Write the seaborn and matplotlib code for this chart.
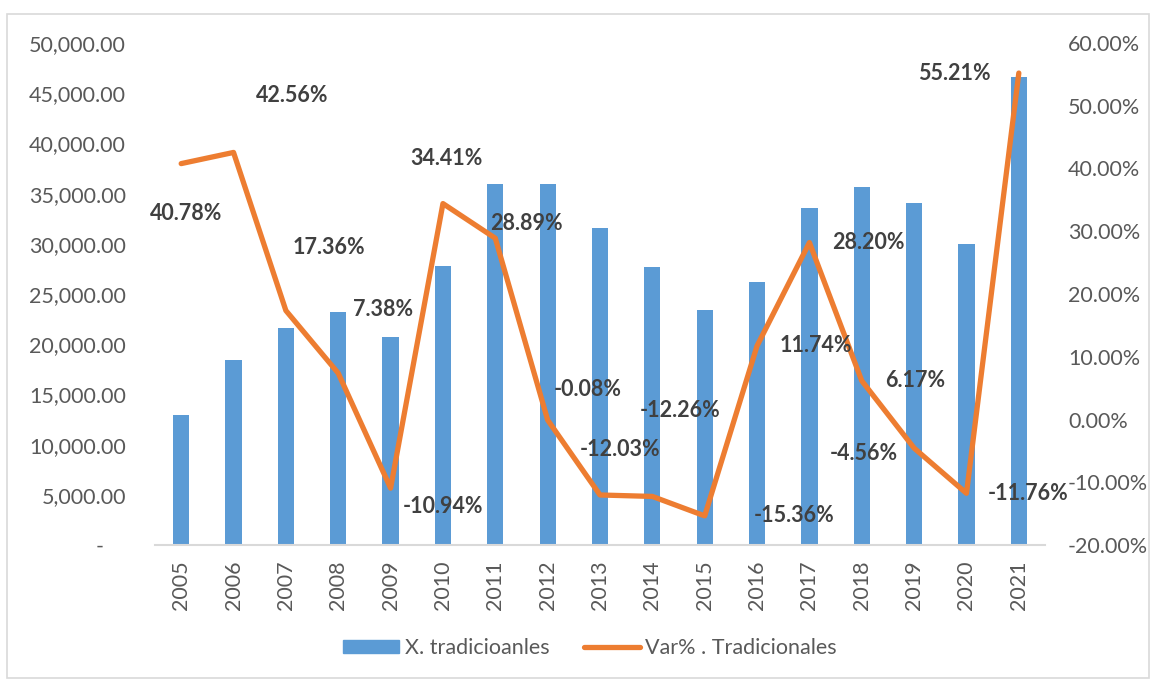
import matplotlib
matplotlib.use("Agg")
import matplotlib.pyplot as plt
import matplotlib.patches as mpatches
from matplotlib.lines import Line2D
from matplotlib.ticker import FuncFormatter, MultipleLocator
import seaborn as sns
import pandas as pd

years = ["2005", "2006", "2007", "2008", "2009", "2010", "2011", "2012", "2013",
         "2014", "2015", "2016", "2017", "2018", "2019", "2020", "2021"]
x_trad = [12950, 18430, 21620, 23210, 20720, 27790, 35950, 35920, 31570,
          27690, 23410, 26200, 33570, 35660, 34060, 29980, 46610]
var_pct = [40.78, 42.56, 17.36, 7.38, -10.94, 34.41, 28.89, -0.08, -12.03,
           -12.26, -15.36, 11.74, 28.20, 6.17, -4.56, -11.76, 55.21]
bar_name = "X. tradicioanles"
line_name = "Var% . Tradicionales"

# label offsets (pixels) relative to each line point
label_offsets = [(5, -50), (59, 57), (43, 63), (45, 64), (52, -18), (4, 45),
                 (31, 15), (40, 31), (20, 45), (28, 86), (89, 0), (59, 0),
                 (59, 0), (53, 0), (-50, -5), (62, 0), (-64, 0)]

df = pd.DataFrame({"year": years, "x": x_trad, "var": var_pct})

sns.set_theme(style="white")
plt.rcParams["font.family"] = ["Lato", "DejaVu Sans"]

BLUE = "#5B9BD5"
ORANGE = "#ED7D31"
TICK = "#595959"
LABEL = "#404040"
FS = 15.5

fig = plt.figure(figsize=(11.5, 6.79), dpi=100)
ax = fig.add_axes([155 / 1150, 1 - 545 / 679, (1045 - 155) / 1150, (545 - 43) / 679])

sns.barplot(data=df, x="year", y="x", color=BLUE, width=0.31, ax=ax,
            saturation=1, edgecolor="none")
ax.set_ylim(0, 50000)
ax.yaxis.set_major_locator(MultipleLocator(5000))
ax.yaxis.set_major_formatter(FuncFormatter(lambda v, p: "-    " if v == 0 else f"{v:,.2f}"))
ax.set_xlim(-0.5, len(years) - 0.5)
ax.set_xlabel("")
ax.set_ylabel("")
ax.tick_params(axis="y", labelsize=FS, colors=TICK, pad=21, length=0)
ax.tick_params(axis="x", labelsize=FS, colors=TICK, pad=11, length=0, labelrotation=90)
for s in ["top", "right", "left"]:
    ax.spines[s].set_visible(False)
ax.spines["bottom"].set_color("#D9D9D9")
ax.spines["bottom"].set_linewidth(1.5)

ax2 = ax.twinx()
sns.lineplot(data=df, x="year", y="var", color=ORANGE, linewidth=3.8, ax=ax2,
             sort=False)
ax2.set_ylim(-20, 60)
ax2.yaxis.set_major_locator(MultipleLocator(10))
ax2.yaxis.set_major_formatter(FuncFormatter(lambda v, p: f"{v:.2f}%"))
ax2.set_ylabel("")
ax2.set_xlabel("")
ax2.tick_params(axis="y", labelsize=FS, colors=TICK, pad=16.5, length=0)
for s in ["top", "right", "left", "bottom"]:
    ax2.spines[s].set_visible(False)
ax2.set_xlim(-0.5, len(years) - 0.5)

for i, (v, off) in enumerate(zip(var_pct, label_offsets)):
    ax2.annotate(f"{v:.2f}%", xy=(i, v), xytext=off, textcoords="offset pixels",
                 ha="center", va="center", fontsize=FS, fontweight="bold",
                 color=LABEL)

handles = [mpatches.Patch(color=BLUE, label=bar_name),
           Line2D([0], [0], color=ORANGE, linewidth=3.8, label=line_name)]
fig.legend(handles=handles, loc="center", bbox_to_anchor=(590 / 1150, 1 - 648 / 679),
           ncol=2, frameon=False, fontsize=FS, handlelength=2.6, handleheight=0.6,
           handletextpad=0.25, columnspacing=1.6, labelcolor=TICK)

fig.patches.append(mpatches.Rectangle((7 / 1150, 1 - 678 / 679), (1149 - 7) / 1150,
                                      (678 - 14) / 679, transform=fig.transFigure,
                                      fill=False, edgecolor="#D9D9D9", linewidth=1.2))

fig.savefig("out.png", dpi=100)
